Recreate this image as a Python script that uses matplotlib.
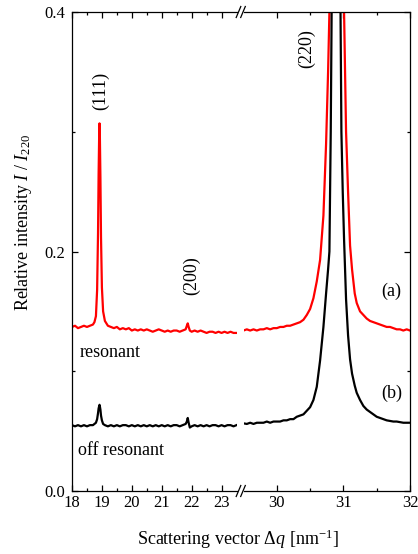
import matplotlib
matplotlib.use("Agg")
import matplotlib.pyplot as plt
from matplotlib.ticker import FixedLocator
from matplotlib.lines import Line2D

plt.rcParams['font.family'] = ['Liberation Serif', 'DejaVu Serif']
plt.rcParams['mathtext.fontset'] = 'custom'
plt.rcParams['mathtext.rm'] = 'Liberation Serif'
plt.rcParams['mathtext.it'] = 'Liberation Serif:italic'
plt.rcParams['font.size'] = 12

# ---------------- data ----------------
q_left = [18.0, 18.1, 18.2, 18.3, 18.4, 18.5, 18.6, 18.7, 18.75, 18.8, 18.84, 18.87, 18.89, 18.91,
          18.92, 18.93, 18.95, 18.97, 19.0, 19.04, 19.1, 19.2, 19.3, 19.4, 19.5, 19.6, 19.7,
          19.8, 19.9, 20.0, 20.1, 20.2, 20.3, 20.4, 20.5, 20.6, 20.7, 20.8, 20.9, 21.0,
          21.1, 21.2, 21.3, 21.4, 21.5, 21.6, 21.7, 21.8, 21.84, 21.87, 21.9, 21.94,
          22.0, 22.1, 22.2, 22.3, 22.4, 22.5, 22.6, 22.7, 22.8, 22.9, 23.0, 23.1, 23.2,
          23.3, 23.4, 23.5]
red_left = [0.137, 0.138, 0.136, 0.137, 0.138, 0.137, 0.138, 0.139, 0.141, 0.146, 0.168, 0.215, 0.265, 0.300,
            0.307, 0.300, 0.262, 0.212, 0.170, 0.150, 0.142, 0.138, 0.137, 0.136, 0.137, 0.135, 0.136,
            0.135, 0.136, 0.134, 0.135, 0.134, 0.135, 0.134, 0.135, 0.134, 0.133, 0.134, 0.135, 0.134,
            0.133, 0.134, 0.133, 0.134, 0.134, 0.133, 0.134, 0.135, 0.138, 0.140, 0.137, 0.134,
            0.133, 0.134, 0.133, 0.134, 0.133, 0.132, 0.133, 0.133, 0.132, 0.133, 0.132, 0.133, 0.132,
            0.133, 0.132, 0.132]
black_left = [0.055, 0.054, 0.055, 0.054, 0.055, 0.054, 0.055, 0.055, 0.056, 0.057, 0.060, 0.065, 0.069, 0.071,
              0.072, 0.071, 0.068, 0.063, 0.059, 0.056, 0.055, 0.054, 0.055, 0.054, 0.055, 0.054, 0.055,
              0.055, 0.054, 0.055, 0.054, 0.055, 0.054, 0.055, 0.054, 0.055, 0.054, 0.055, 0.054, 0.055,
              0.054, 0.055, 0.054, 0.055, 0.055, 0.054, 0.055, 0.056, 0.058, 0.061, 0.057, 0.053,
              0.054, 0.055, 0.054, 0.055, 0.054, 0.055, 0.054, 0.055, 0.055, 0.054, 0.055, 0.054, 0.055,
              0.055, 0.054, 0.055]

q_right = [29.50, 29.55, 29.60, 29.65, 29.70, 29.75, 29.80, 29.85, 29.90, 29.95, 30.00,
           30.05, 30.10, 30.15, 30.20, 30.25, 30.30, 30.35, 30.40, 30.45, 30.50, 30.55,
           30.60, 30.65, 30.70, 30.74, 30.77, 30.79, 30.81, 30.83, 30.89, 30.95, 30.97,
           30.99, 31.01, 31.04, 31.07, 31.10, 31.13, 31.17, 31.20, 31.25, 31.30, 31.35,
           31.40, 31.45, 31.50, 31.55, 31.60, 31.65, 31.70, 31.75, 31.80, 31.85, 31.90,
           31.95, 32.00]
red_right = [0.134, 0.135, 0.134, 0.135, 0.134, 0.135, 0.135, 0.136, 0.135, 0.136, 0.136,
             0.137, 0.137, 0.138, 0.138, 0.139, 0.140, 0.141, 0.143, 0.147, 0.152, 0.161,
             0.175, 0.193, 0.230, 0.290, 0.350, 0.400, 0.470, 0.560, 1.000, 0.620, 0.520,
             0.450, 0.400, 0.300, 0.250, 0.205, 0.185, 0.165, 0.157, 0.150, 0.147, 0.144,
             0.142, 0.141, 0.140, 0.139, 0.138, 0.137, 0.137, 0.136, 0.135, 0.135, 0.134,
             0.135, 0.134]
black_right = [0.0565, 0.056, 0.057, 0.056, 0.057, 0.057, 0.057, 0.058, 0.057, 0.058, 0.058,
               0.058, 0.059, 0.059, 0.060, 0.060, 0.062, 0.063, 0.064, 0.067, 0.070, 0.076,
               0.087, 0.109, 0.137, 0.165, 0.185, 0.200, 0.300, 0.450, 1.500, 0.450, 0.300,
               0.250, 0.210, 0.160, 0.130, 0.110, 0.098, 0.088, 0.082, 0.076, 0.071, 0.068,
               0.066, 0.064, 0.062, 0.061, 0.060, 0.059, 0.0585, 0.058, 0.058, 0.0575, 0.057,
               0.057, 0.057]

xticks_left = [18, 19, 20, 21, 22, 23]
xticks_right = [30, 31, 32]
yticks = [0.0, 0.2, 0.4]

# ---------------- figure ----------------
W, H = 418, 554
fig = plt.figure(figsize=(W / 100, H / 100), dpi=100)

def box(x0, x1, ytop=12, ybot=491):
    return [x0 / W, 1 - ybot / H, (x1 - x0) / W, (ybot - ytop) / H]

axL = fig.add_axes(box(72, 236.5))
axR = fig.add_axes(box(243.5, 410))

lw = 1.6
axL.plot(q_left, red_left, color='#ff0000', lw=lw)
axL.plot(q_left, black_left, color='black', lw=lw)
axR.plot(q_right, red_right, color='#ff0000', lw=lw)
axR.plot(q_right, black_right, color='black', lw=lw)

axL.set_xlim(18, 23.5)
axR.set_xlim(29.5, 32)
for ax in (axL, axR):
    ax.set_ylim(0, 0.4)
    for s in ax.spines.values():
        s.set_linewidth(0.9)
    ax.tick_params(which='both', direction='in', width=0.9, labelsize=12)
    ax.tick_params(which='major', length=4)
    ax.tick_params(which='minor', length=2.5)

axL.spines['right'].set_visible(False)
axR.spines['left'].set_visible(False)

axL.xaxis.set_major_locator(FixedLocator(xticks_left))
axL.xaxis.set_minor_locator(FixedLocator([18.5, 19.5, 20.5, 21.5, 22.5]))
axR.xaxis.set_major_locator(FixedLocator(xticks_right))
axR.xaxis.set_minor_locator(FixedLocator([30.5, 31.5]))
for ax in (axL, axR):
    ax.yaxis.set_major_locator(FixedLocator(yticks))
    ax.yaxis.set_minor_locator(FixedLocator([0.1, 0.3]))

axL.set_yticklabels(['0.0', '0.2', '0.4'])
axL.tick_params(axis='both', which='both', top=True, right=False, left=True)
axR.tick_params(axis='both', which='both', top=True, right=True, left=False, labelleft=False)
axL.tick_params(axis='y', pad=5)
axL.tick_params(axis='x', pad=3)
axR.tick_params(axis='x', pad=3)

# break marks
for yb in (12, 491):
    for xc in (238.5, 243):
        fig.add_artist(Line2D([(xc - 2.3) / W, (xc + 2.3) / W],
                              [1 - (yb + 5.5) / H, 1 - (yb - 5.5) / H],
                              color='black', lw=0.9))

# annotations
fs = 13
axL.text(18.94, 0.318, '(111)', rotation=90, ha='center', va='bottom', fontsize=fs)
axL.text(22.0, 0.164, '(200)', rotation=90, ha='center', va='bottom', fontsize=fs)
axR.text(30.45, 0.353, '(220)', rotation=90, ha='center', va='bottom', fontsize=fs)
axR.text(31.72, 0.167, '(a)', ha='center', va='center', fontsize=fs)
axR.text(31.72, 0.0816, '(b)', ha='center', va='center', fontsize=fs)
axL.text(18.24, 0.116, 'resonant', ha='left', va='center', fontsize=fs)
axL.text(18.19, 0.034, 'off resonant', ha='left', va='center', fontsize=fs)

fig.text(24 / W, 1 - 222 / H, r'Relative intensity $I$ / $I_{220}$', rotation=90,
         ha='center', va='center', fontsize=fs)
fig.text(238 / W, 1 - 539 / H, r'Scattering vector $\Delta q$ [nm$^{-1}$]',
         ha='center', va='center', fontsize=fs)

fig.savefig('out.png', dpi=100)
